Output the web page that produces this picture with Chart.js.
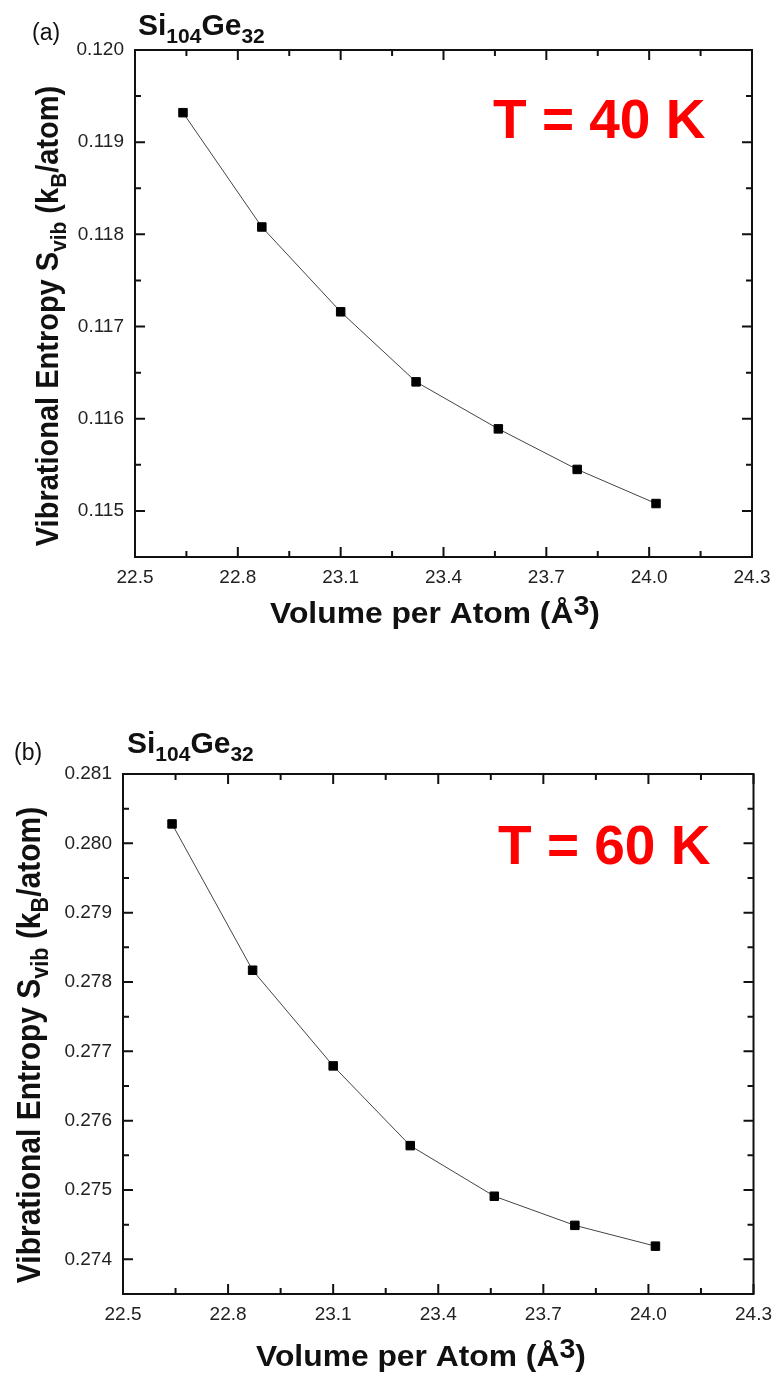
<!DOCTYPE html>
<html>
<head>
<meta charset="utf-8">
<script src="https://cdn.jsdelivr.net/npm/chart.js@4.4.1/dist/chart.umd.min.js"></script>
<style>
  html, body { margin: 0; padding: 0; background: #fff; }
  .panel { position: absolute; left: 0; width: 781px; height: 689px; }
</style>
</head>
<body>
<div class="panel" style="top:0"><canvas id="chartA" width="781" height="689"></canvas></div>
<div class="panel" style="top:689px"><canvas id="chartB" width="781" height="689"></canvas></div>
<script>
// data
const volumes = [22.64, 22.87, 23.10, 23.32, 23.56, 23.79, 24.02];
const entropy40K = [0.11932, 0.11808, 0.11716, 0.11640, 0.11589, 0.11545, 0.11508];
const entropy60K = [0.28028, 0.27817, 0.27679, 0.27564, 0.27491, 0.27449, 0.27419];
const xTicks = [22.5, 22.8, 23.1, 23.4, 23.7, 24.0, 24.3];
const yTicks40K = [0.115, 0.116, 0.117, 0.118, 0.119, 0.120];
const yTicks60K = [0.274, 0.275, 0.276, 0.277, 0.278, 0.279, 0.280, 0.281];

const FONT = "'Liberation Sans', Arial, Helvetica, sans-serif";

// draws a run of text parts: [text, size, shift(+down), bold]
function richText(ctx, parts, x, y, align) {
  let total = 0;
  parts.forEach(p => {
    ctx.font = (p[3] === false ? "" : "bold ") + p[1] + "px " + FONT;
    total += ctx.measureText(p[0]).width;
  });
  let cx = align === "center" ? x - total / 2 : x;
  parts.forEach(p => {
    ctx.font = (p[3] === false ? "" : "bold ") + p[1] + "px " + FONT;
    ctx.fillText(p[0], cx, y + p[2]);
    cx += ctx.measureText(p[0]).width;
  });
}

function minorsOf(ticks, min, max) {
  const step = ticks[1] - ticks[0];
  const out = [];
  for (let i = -1; i < ticks.length; i++) {
    const v = ticks[0] + (i + 0.5) * step;
    if (v > min + step * 0.01 && v < max - step * 0.01) out.push(v);
  }
  return out;
}

const framePlugin = {
  id: "frame",
  afterDraw(chart, args, opts) {
    const { ctx, chartArea: a, scales } = chart;
    const x = scales.x, y = scales.y;
    ctx.save();
    ctx.strokeStyle = "#111";
    ctx.lineWidth = 2;
    ctx.strokeRect(a.left, a.top, a.right - a.left, a.bottom - a.top);

    // inward tick marks on all four sides
    const xMaj = x.ticks.map(t => t.value);
    const yMaj = y.ticks.map(t => t.value);
    ctx.beginPath();
    const tickX = (v, len) => {
      const px = x.getPixelForValue(v);
      ctx.moveTo(px, a.bottom); ctx.lineTo(px, a.bottom - len);
      ctx.moveTo(px, a.top); ctx.lineTo(px, a.top + len);
    };
    const tickY = (v, len) => {
      const py = y.getPixelForValue(v);
      ctx.moveTo(a.left, py); ctx.lineTo(a.left + len, py);
      ctx.moveTo(a.right, py); ctx.lineTo(a.right - len, py);
    };
    xMaj.forEach(v => tickX(v, 10));
    minorsOf(xMaj, x.min, x.max).forEach(v => tickX(v, 6));
    yMaj.forEach(v => tickY(v, 10));
    minorsOf(yMaj, y.min, y.max).forEach(v => tickY(v, 6));
    ctx.stroke();

    ctx.fillStyle = "#111";
    ctx.textBaseline = "alphabetic";
    ctx.textAlign = "left";

    // panel letter
    richText(ctx, [[opts.letter, 23, 0, false]], opts.letterX, opts.letterY, "left");
    // composition
    richText(ctx, [["Si", 30, 0], ["104", 21, 8], ["Ge", 30, 0], ["32", 21, 8]],
      opts.compX, opts.compY, "left");
    // temperature
    ctx.fillStyle = "#ff0000";
    richText(ctx, [[opts.temp, 55, 0]], opts.tempX, opts.tempY, "left");
    ctx.fillStyle = "#111";
    // x title (slightly widened like the original)
    ctx.save();
    ctx.translate(opts.xtX, opts.xtY);
    ctx.scale(1.06, 1);
    richText(ctx, [["Volume per Atom (Å", 30, 0], ["3", 27, -8], [")", 30, 0]],
      0, 0, "center");
    ctx.restore();
    // y title
    ctx.save();
    ctx.translate(opts.ytX, opts.ytY);
    ctx.rotate(-Math.PI / 2);
    ctx.scale(1, 1.1);
    const s = opts.ytSize;
    richText(ctx, [["Vibrational Entropy S", s, 0], ["vib", s * 0.72, 7],
      [" (k", s, 0], ["B", s * 0.72, 7], ["/atom)", s, 0]], 0, 0, "center");
    ctx.restore();
    ctx.restore();
  }
};

function makePanel(id, values, yTicks, yMin, yMax, g, labels) {
  return new Chart(document.getElementById(id), {
    type: "line",
    data: {
      datasets: [{
        data: volumes.map((v, i) => ({ x: v, y: values[i] })),
        borderColor: "#444",
        borderWidth: 1,
        backgroundColor: "#000",
        pointStyle: "rect",
        pointRadius: 6,
        pointBorderColor: "#000",
        pointBorderWidth: 1,
        tension: 0,
        clip: false
      }]
    },
    options: {
      responsive: false,
      animation: false,
      layout: { padding: { top: g.top, right: 781 - g.right, left: 0, bottom: 0 } },
      plugins: { legend: { display: false }, tooltip: { enabled: false }, frame: labels },
      scales: {
        x: {
          type: "linear",
          min: xTicks[0],
          max: xTicks[xTicks.length - 1],
          afterBuildTicks: sc => { sc.ticks = xTicks.map(v => ({ value: v })); },
          afterFit: sc => { sc.height = 689 - g.bottom; },
          grid: { display: false, drawTicks: false },
          border: { display: false },
          ticks: {
            padding: 9,
            color: "#222",
            font: { family: FONT, size: 19 },
            callback: v => Number(v).toFixed(1)
          }
        },
        y: {
          type: "linear",
          min: yMin,
          max: yMax,
          afterBuildTicks: sc => { sc.ticks = yTicks.map(v => ({ value: v })); },
          afterFit: sc => { sc.width = g.left; },
          grid: { display: false, drawTicks: false },
          border: { display: false },
          ticks: {
            padding: 11,
            color: "#222",
            font: { family: FONT, size: 19 },
            callback: v => Number(v).toFixed(3)
          }
        }
      }
    },
    plugins: [framePlugin]
  });
}

makePanel("chartA", entropy40K, yTicks40K, 0.1145, 0.120,
  { top: 50, bottom: 557, left: 135, right: 752 },
  { letter: "(a)", letterX: 32, letterY: 40, compX: 138, compY: 35,
    temp: "T = 40 K", tempX: 493, tempY: 138,
    xtX: 435, xtY: 623, ytX: 58, ytY: 316, ytSize: 29 });

makePanel("chartB", entropy60K, yTicks60K, 0.2735, 0.281,
  { top: 85, bottom: 605, left: 123, right: 758 },
  { letter: "(b)", letterX: 14, letterY: 71, compX: 127, compY: 64,
    temp: "T = 60 K", tempX: 498, tempY: 175,
    xtX: 421, xtY: 677, ytX: 40, ytY: 356, ytSize: 30 });
</script>
</body>
</html>
